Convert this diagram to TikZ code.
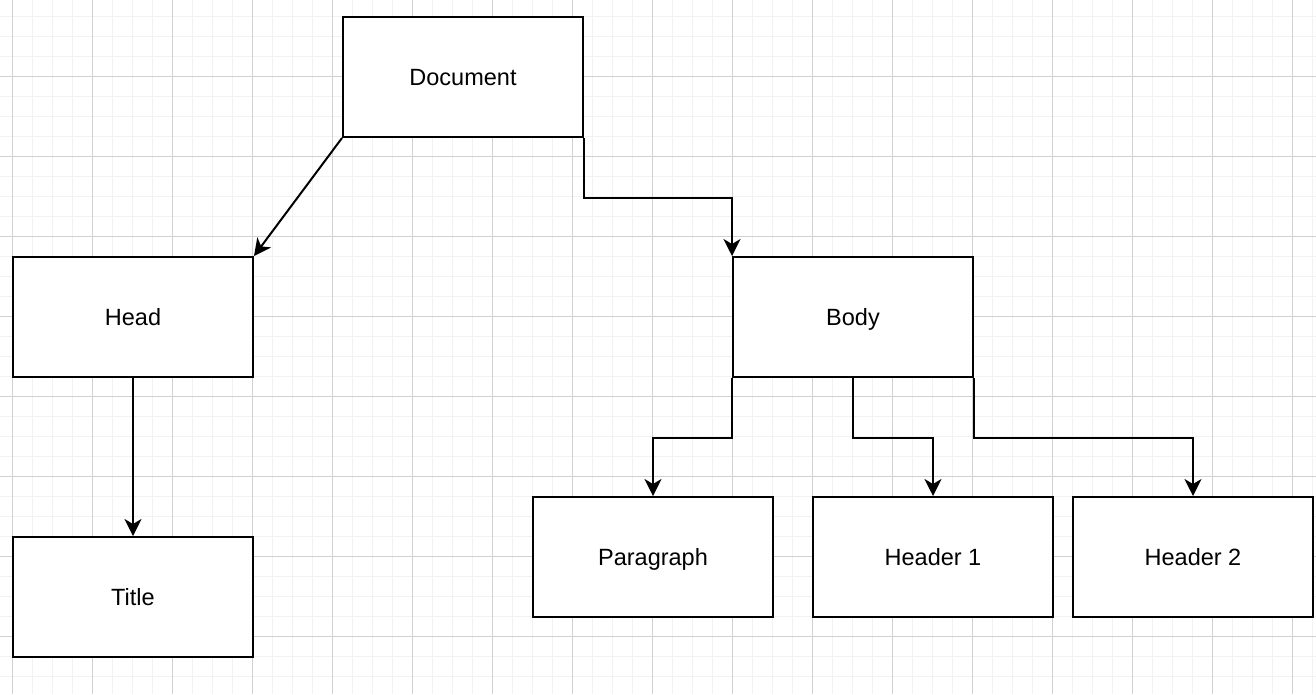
\documentclass[tikz,border=0pt]{standalone}
\usepackage{fontspec}
\setmainfont{Liberation Sans}
\usetikzlibrary{arrows.meta}
\begin{document}
\begin{tikzpicture}[x=1pt,y=-1pt,
  box/.style={draw=black,line width=2pt,minimum width=240pt,minimum height=120pt,inner sep=0pt,font=\fontsize{23.5}{28}\selectfont,text height=17pt,text depth=0pt,fill=white},
  conn/.style={draw=black,line width=2pt,-{Stealth[length=17pt,width=17pt,inset=5pt]}}]
\useasboundingbox (0,0) rectangle (1316,694);
\fill[white] (0,0) rectangle (1316,694);
% minor grid
\foreach \x in {12,32,...,1312} \draw[line width=1pt,color=black!5] (\x,0) -- (\x,694);
\foreach \y in {16,36,...,676} \draw[line width=1pt,color=black!5] (0,\y) -- (1316,\y);
% major grid
\foreach \x in {12,92,...,1312} \draw[line width=1pt,color=black!18] (\x,0) -- (\x,694);
\foreach \y in {76,156,...,636} \draw[line width=1pt,color=black!18] (0,\y) -- (1316,\y);
% nodes
\node[box] (doc) at (463,77) {Document};
\node[box] (head) at (133,317) {Head};
\node[box] (title) at (133,597) {Title};
\node[box] (body) at (853,317) {Body};
\node[box] (para) at (653,557) {Paragraph};
\node[box] (h1) at (933,557) {Header 1};
\node[box] (h2) at (1193,557) {Header 2};
% connectors
\draw[conn] (doc.south west) -- (head.north east);
\draw[conn] (doc.south east) -- ++(0,60) -| (body.north west);
\draw[conn] (head.south) -- (title.north);
\draw[conn] (body.south west) -- ++(0,60) -| (para.north);
\draw[conn] (body.south) -- ++(0,60) -| (h1.north);
\draw[conn] (body.south east) -- ++(0,60) -| (h2.north);
\end{tikzpicture}
\end{document}
